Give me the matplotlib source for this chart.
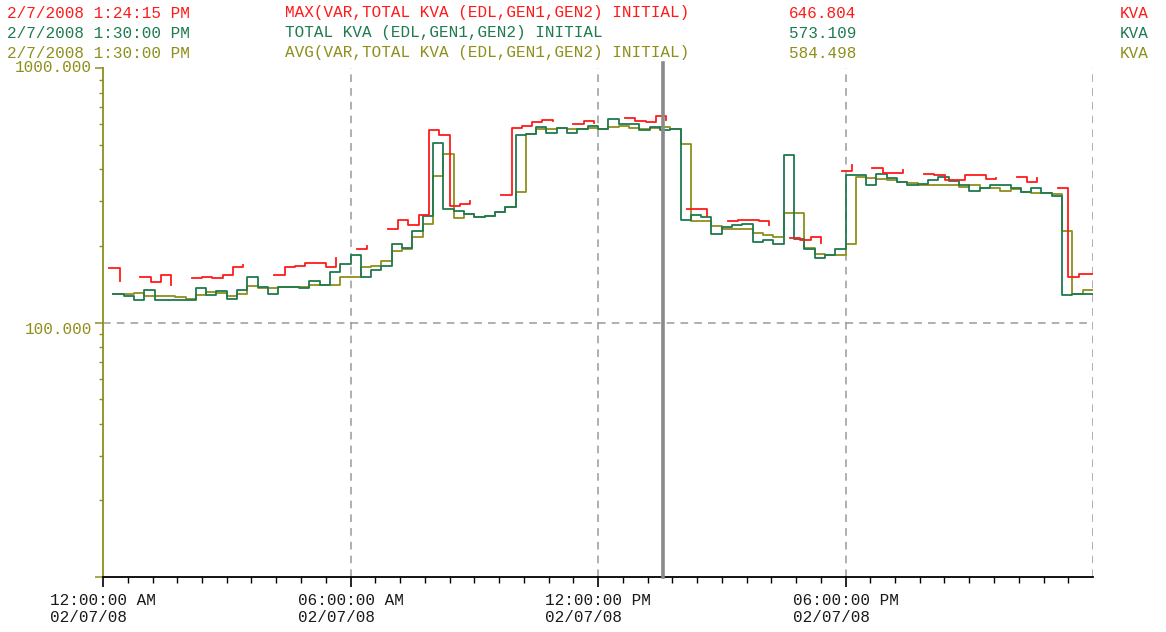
import numpy as np
import matplotlib
matplotlib.use("Agg")
import matplotlib.pyplot as plt
from matplotlib.ticker import FixedLocator

nan = np.nan

# 15 minute samples, index 0 = 00:00 ... 95 = 23:45 on 02/07/08 (kVA)
total_kva = [nan, 129, 127, 123, 134, 123, 123, 123, 123, 137, 128, 133, 124, 134, 151, 138,
             129, 138, 138, 137, 146, 141, 158, 170, 184, 151, 161, 167, 203, 197, 229, 262,
             507, 280, 274, 268, 260, 263, 271, 285, 546, 552, 584, 557, 581, 557, 574, 593,
             577, 628, 604, 600, 569, 585, 573, 574, 252, 265, 259, 222, 238, 242, 244, 208,
             210, 204, 457, 212, 194, 180, 184, 194, 379, 379, 347, 385, 371, 355, 346, 350,
             363, 372, 360, 346, 330, 337, 346, 346, 337, 326, 337, 323, 315, 128, 130, 130]

avg_kva = [nan, 130, 129, 131, 127, 127, 127, 126, 124, 128, 132, 131, 127, 130, 139, 137,
           137, 138, 138, 138, 140, 140, 141, 151, 151, 165, 167, 175, 191, 194, 217, 244,
           376, 461, 258, 268, 260, 263, 271, 285, 326, 548, 574, 577, 581, 577, 574, 580,
           577, 588, 590, 581, 577, 581, 584, 575, 505, 250, 250, 239, 234, 234, 234, 225,
           221, 217, 270, 270, 197, 186, 184, 184, 204, 372, 368, 366, 363, 355, 352, 347,
           346, 346, 346, 342, 346, 339, 337, 330, 334, 327, 323, 323, 320, 228, 130, 134]

# max values have gaps where no sample was logged
max_kva = [nan, 163, 145, nan, 151, 144, 153, 141, nan, 149, 151, 149, 153, 165, 168, nan,
           nan, 154, 165, 166, 171, 171, 165, 180, nan, 195, 200, nan, 232, 252, 241, 265,
           569, 546, 286, 292, 299, nan, nan, 316, 580, 593, 612, 627, 620, nan, 604, 617,
           610, nan, nan, 635, 621, 612, 647, 625, nan, 280, 280, 262, nan, 250, 252, 252,
           250, 242, nan, 214, 211, 217, 206, nan, 393, 415, nan, 406, 388, 388, 397, nan,
           385, 379, 363, 363, 380, 380, 365, 368, nan, 372, 355, 368, nan, 337, 151, 155]

max_offset_h = 0.0958   # max stamped at 1:24:15 instead of 1:30:00
cursor_h = 13.58

header_time = ["2/7/2008 1:24:15 PM", "2/7/2008 1:30:00 PM", "2/7/2008 1:30:00 PM"]
header_name = ["MAX(VAR,TOTAL KVA (EDL,GEN1,GEN2) INITIAL)",
               "TOTAL KVA (EDL,GEN1,GEN2) INITIAL",
               "AVG(VAR,TOTAL KVA (EDL,GEN1,GEN2) INITIAL)"]
header_value = ["646.804", "573.109", "584.498"]
x_tick_hours = [0, 6, 12, 18]
x_tick_labels = ["12:00:00 AM\n02/07/08", "06:00:00 AM\n02/07/08",
                 "12:00:00 PM\n02/07/08", "06:00:00 PM\n02/07/08"]

RED = "#ff1a1a"
GREEN = "#1f7a50"
OLIVE = "#8f8f1c"
GRID = "#9a9a9a"
FONT = "Liberation Mono"
W, H = 1166, 632

t = np.arange(96) * 0.25


def draw_steps(ax, times, values, color, z):
    times = np.append(times, 24.0)
    values = np.append(values, values[-1])
    ok = ~np.isnan(values)
    i = 0
    while i < len(values):
        if not ok[i]:
            i += 1
            continue
        j = i
        while j + 1 < len(values) and ok[j + 1]:
            j += 1
        if j > i:
            ax.step(times[i:j + 1], values[i:j + 1], where="post", color=color, lw=1.3, zorder=z)
        i = j + 1


fig = plt.figure(figsize=(W / 100, H / 100), dpi=100)
ax = fig.add_axes([103 / W, 1 - 577 / H, (1093 - 103) / W, (577 - 68) / H])
ax.set_yscale("log")
ax.set_ylim(10, 1000)
ax.set_xlim(0, 24)

draw_steps(ax, t, np.array(avg_kva, float), OLIVE, 3)
draw_steps(ax, t, np.array(total_kva, float), GREEN, 4)
draw_steps(ax, t - max_offset_h, np.array(max_kva, float), RED, 5)

dash = (0, (5, 4))
ax.axhline(100, color=GRID, ls=dash, lw=1.1, zorder=1)
for h in [6, 12, 18, 24]:
    ax.axvline(h, color=GRID, ls=dash, lw=1.1, zorder=1)
ax.axvline(cursor_h, ymin=0, ymax=1.01, color="#8a8a8a", lw=2.6, zorder=6, clip_on=False)

for s in ["top", "right"]:
    ax.spines[s].set_visible(False)
ax.spines["left"].set_color(OLIVE)
ax.spines["left"].set_linewidth(1.3)
ax.spines["bottom"].set_color("black")
ax.spines["bottom"].set_linewidth(1.3)

ax.set_xticks(x_tick_hours)
ax.set_xticklabels(x_tick_labels, fontfamily=FONT, fontsize=11.5, color="#1a1a1a",
                   ma="left", linespacing=1.15)
ax.xaxis.set_minor_locator(FixedLocator([k * 0.6 for k in range(40) if k % 10 != 0]))
ax.tick_params(axis="x", which="major", length=7.5, width=1.2, pad=4, color="black")
ax.tick_params(axis="x", which="minor", length=4.5, width=1.0, color="black")

ax.set_yticks([10, 100, 1000])
ax.set_yticklabels(["", "100.000", "1000.000"], fontfamily=FONT, fontsize=11.5, color=OLIVE)
ax.tick_params(axis="y", which="major", length=6, width=1.1, pad=2, color=OLIVE)
ax.tick_params(axis="y", which="minor", length=3, width=1.0, color=OLIVE, labelleft=False)
ylabels = ax.get_yticklabels()
ylabels[1].set_va("top")
ylabels[2].set_va("center")

colors = [RED, GREEN, OLIVE]
for k in range(3):
    yy = 1 - (13 + 20 * k) / H
    fig.text(7 / W, yy, header_time[k], color=colors[k], fontfamily=FONT, fontsize=11.5, va="center")
    fig.text(285 / W, yy, header_name[k], color=colors[k], fontfamily=FONT, fontsize=11.5, va="center")
    fig.text(789 / W, yy, header_value[k], color=colors[k], fontfamily=FONT, fontsize=11.5, va="center")
    fig.text(1120 / W, yy, "KVA", color=colors[k], fontfamily=FONT, fontsize=11.5, va="center")

fig.savefig("out.png", dpi=100, facecolor="white")
